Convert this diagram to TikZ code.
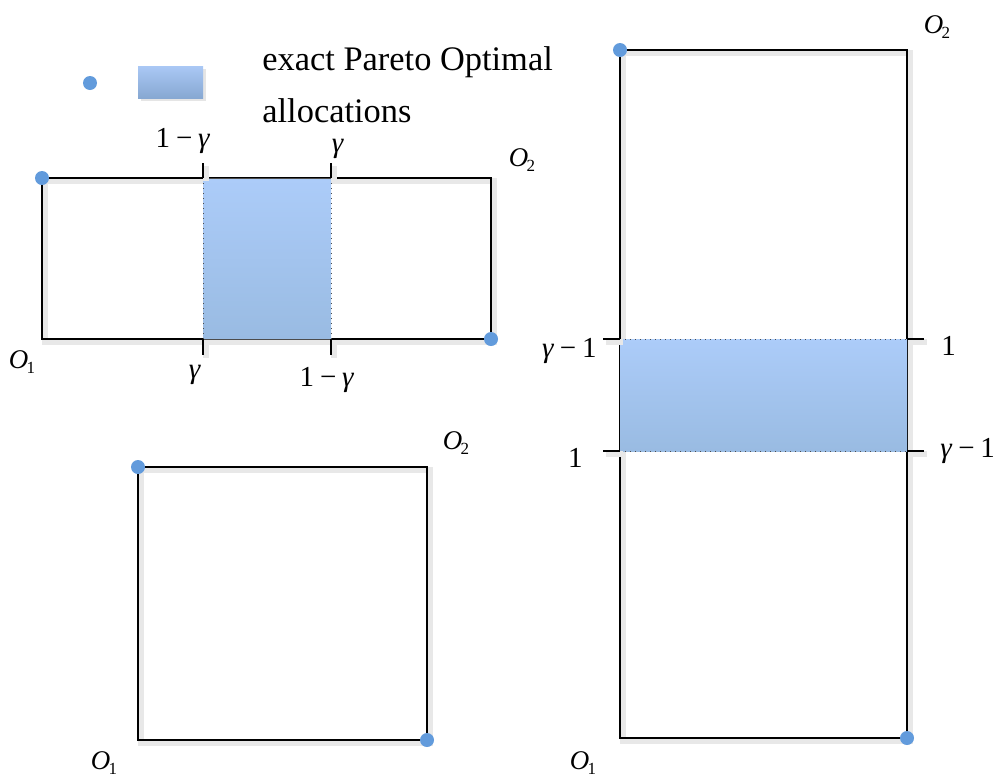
\documentclass[tikz,border=0pt]{standalone}
\usepackage{fontspec}
\setmainfont{Liberation Serif}
\usetikzlibrary{positioning}
\definecolor{paretoDot}{RGB}{98,155,220}
\definecolor{bandTop}{RGB}{172,204,249}
\definecolor{bandBot}{RGB}{153,187,226}
\definecolor{legTop}{RGB}{170,200,245}
\definecolor{legBot}{RGB}{135,168,210}
\newcommand{\gm}{\textit{γ}}
\newcommand{\mn}{\kern0.2em−\kern0.2em}
\newcommand{\Olab}[1]{\textit{O}\kern-0.06em\raisebox{-0.4ex}{\fontsize{8.5}{9}\selectfont #1}}

\begin{document}
\begin{tikzpicture}[x=0.5pt, y=-0.5pt,
      edge/.style={line width=1.4pt,
                   preaction={draw=black!9, line width=2.8pt,
                              transform canvas={shift={(1.4pt,-1.6pt)}}}},
      tick/.style={edge},
      band/.style={top color=bandTop, bottom color=bandBot, draw=none},
      rim/.style={black!70, line width=0.5pt, dotted},
      pdot/.style={circle, fill=paretoDot, inner sep=0pt, minimum size=7pt},
      lab/.style={font=\fontsize{14.5}{16}\selectfont, inner sep=0pt},
      olab/.style={font=\fontsize{13.5}{15}\selectfont, inner sep=0pt},
      leg/.style={font=\fontsize{17.2}{20}\selectfont, inner sep=0pt, anchor=base west}]
    \useasboundingbox (0,0) rectangle (1000,777);

    % legend
    \node[pdot] (ldot) at (90,83) {};
    \node[minimum width=32.5pt, minimum height=16pt, inner sep=0pt,
          top color=legTop, bottom color=legBot,
          preaction={fill=black!10, transform canvas={shift={(1.4pt,-1.6pt)}}}]
          (lbox) at (170.5,82) {};
    \node[leg] (ltxt1) at (262,70) {exact Pareto Optimal};
    \node[leg] (ltxt2) at (262,122) {allocations};

    % wide box
    \coordinate (w-nw) at (42,178);
    \coordinate (w-se) at (491,339);
    \draw[edge] (w-nw) rectangle (w-se);
    \fill[band] (203,178) rectangle (331,339);
    \draw[black!70, line width=0.5pt] (203,178) -- (331,178) (203,339) -- (331,339);
    \draw[rim] (203,178) -- (203,339) (331,178) -- (331,339);
    \draw[tick] (203,163) -- (203,178) (331,163) -- (331,178);
    \draw[tick] (203,339) -- (203,355) (331,339) -- (331,355);
    \node[lab, anchor=base] (wt1) at (183,147) {1\mn\gm};
    \node[lab, anchor=base] (wt2) at (338,152) {\gm};
    \node[lab, anchor=base] (wb1) at (195,378) {\gm};
    \node[lab, anchor=base] (wb2) at (327,386) {1\mn\gm};
    \node[pdot] (wd1) at (w-nw) {};
    \node[pdot] (wd2) at (w-se) {};
    \node[olab] (wo1) at (22,362) {\Olab{1}};
    \node[olab] (wo2) at (522,160) {\Olab{2}};

    % square box
    \coordinate (s-nw) at (138,467);
    \coordinate (s-se) at (427,740);
    \draw[edge] (s-nw) rectangle (s-se);
    \node[pdot] (sd1) at (s-nw) {};
    \node[pdot] (sd2) at (s-se) {};
    \node[olab] (so1) at (104,763) {\Olab{1}};
    \node[olab] (so2) at (456,443) {\Olab{2}};

    % tall box
    \coordinate (t-nw) at (620,50);
    \coordinate (t-se) at (907,738);
    \draw[edge] (t-nw) rectangle (t-se);
    \fill[band] (620,339) rectangle (907,451);
    \draw[rim] (620,339) -- (907,339) (620,451) -- (907,451);
    \draw[tick] (603,339) -- (620,339) (603,451) -- (620,451);
    \draw[tick] (907,339) -- (924,339) (907,451) -- (924,451);
    \node[lab, anchor=base east] (tl1) at (597,357) {\gm\mn1};
    \node[lab, anchor=base east] (tl2) at (583,467) {1};
    \node[lab, anchor=base west] (tr1) at (941,355) {1};
    \node[lab, anchor=base west] (tr2) at (940,457) {\gm\mn1};
    \node[pdot] (td1) at (t-nw) {};
    \node[pdot] (td2) at (t-se) {};
    \node[olab] (to1) at (583,763) {\Olab{1}};
    \node[olab] (to2) at (937,27) {\Olab{2}};
  \end{tikzpicture}
\end{document}
